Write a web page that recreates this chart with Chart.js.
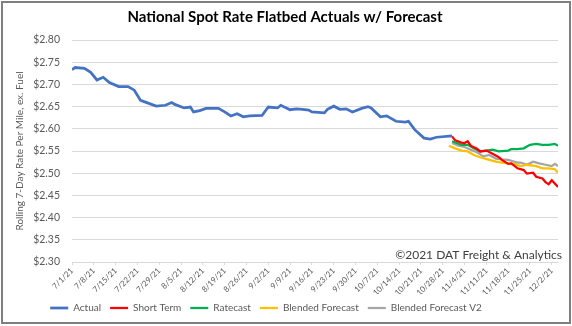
<!DOCTYPE html>
<html>
<head>
<meta charset="utf-8">
<script src="https://cdn.jsdelivr.net/npm/chart.js@4.4.0/dist/chart.umd.min.js"></script>
<style>
  body { margin: 0; background: #fff; }
</style>
</head>
<body>
<canvas id="myChart" width="572" height="326"></canvas>
<script>
const tickLabels = ['7/1/21', '7/8/21', '7/15/21', '7/22/21', '7/29/21', '8/5/21', '8/12/21', '8/19/21',
    '8/26/21', '9/2/21', '9/9/21', '9/16/21', '9/23/21', '9/30/21', '10/7/21', '10/14/21', '10/21/21',
    '10/28/21', '11/4/21', '11/11/21', '11/18/21', '11/25/21', '12/2/21'];

// x = days since 7/1/21
const actualDays = [0, 1, 4, 6, 8, 10, 12, 15, 18, 20, 22, 24, 27, 30, 32, 33, 36, 38, 39, 41, 43, 47, 49, 51,
    53, 55, 57, 61, 63, 66, 67, 70, 72, 74, 76, 77, 81, 82, 84, 86, 88, 90, 93, 95, 96, 99, 101, 104, 107, 108,
    110, 113, 115, 117, 122];
const actualRates = [2.733, 2.738, 2.736, 2.727, 2.710, 2.716, 2.704, 2.695, 2.695, 2.687, 2.664, 2.659, 2.651,
    2.653, 2.659, 2.655, 2.647, 2.649, 2.638, 2.641, 2.646, 2.646, 2.638, 2.629, 2.634, 2.627, 2.629, 2.630,
    2.649, 2.647, 2.653, 2.643, 2.645, 2.644, 2.642, 2.638, 2.636, 2.644, 2.651, 2.644, 2.645, 2.638, 2.646,
    2.650, 2.647, 2.627, 2.629, 2.617, 2.615, 2.617, 2.598, 2.579, 2.577, 2.581, 2.584];

const shortTermDays = [122, 123, 125, 126, 127, 128, 130, 131, 133, 135, 137, 138, 140, 141, 143, 145, 146, 148,
    149, 151, 152, 153, 154, 156];
const shortTermRates = [2.583, 2.574, 2.569, 2.568, 2.572, 2.562, 2.555, 2.549, 2.551, 2.544, 2.536, 2.530,
    2.521, 2.522, 2.511, 2.507, 2.499, 2.501, 2.492, 2.488, 2.480, 2.475, 2.484, 2.469];

const ratecastDays = [122, 123, 125, 127, 129, 131, 133, 135, 137, 140, 141, 143, 145, 147, 149, 151, 153, 155, 156];
const ratecastRates = [2.572, 2.569, 2.564, 2.564, 2.556, 2.549, 2.551, 2.553, 2.549, 2.551, 2.554, 2.554,
    2.556, 2.564, 2.566, 2.564, 2.564, 2.566, 2.562];

const blendedDays = [121, 123, 125, 127, 129, 131, 134, 136, 138, 140, 142, 144, 146, 149, 151, 153, 155, 156];
const blendedRates = [2.562, 2.556, 2.551, 2.549, 2.541, 2.536, 2.530, 2.526, 2.524, 2.522, 2.521, 2.516,
    2.519, 2.516, 2.511, 2.511, 2.509, 2.501];

const blendedV2Days = [122, 124, 126, 128, 130, 132, 134, 136, 138, 140, 141, 143, 144, 146, 148, 150, 152, 154, 155, 156];
const blendedV2Rates = [2.568, 2.562, 2.559, 2.553, 2.547, 2.538, 2.541, 2.533, 2.531, 2.530, 2.528, 2.524,
    2.524, 2.519, 2.526, 2.522, 2.519, 2.516, 2.521, 2.516];

const copyright = '\u00A92021 DAT Freight & Analytics';
const font = 'Lato';
const legendShift = 19;

function points(days, rates) {
    return days.map((d, i) => ({ x: d, y: rates[i] }));
}

function line(label, color, days, rates, width) {
    return {
        label: label,
        data: points(days, rates),
        borderColor: color,
        backgroundColor: color,
        borderWidth: width,
        pointRadius: 0,
        tension: 0,
    };
}

const frame = {
    id: 'frame',
    afterLayout(chart) {
        chart.legend.left -= legendShift;
        chart.legend.right -= legendShift;
    },
    afterDraw(chart) {
        const ctx = chart.ctx;
        const area = chart.chartArea;
        ctx.save();
        ctx.font = '12px ' + font;
        ctx.fillStyle = '#404040';
        ctx.textAlign = 'right';
        ctx.textBaseline = 'middle';
        ctx.fillText(copyright, area.right + 4, area.bottom - 7);
        ctx.strokeStyle = '#7f7f7f';
        ctx.lineWidth = 2;
        ctx.strokeRect(2, 2, 568, 321);
        ctx.restore();
    }
};

const config = {
    type: 'line',
    data: {
        datasets: [
            line('Actual', '#4472C4', actualDays, actualRates, 2.75),
            line('Short Term', '#FF0000', shortTermDays, shortTermRates, 2.25),
            line('Ratecast', '#00B050', ratecastDays, ratecastRates, 2.25),
            line('Blended Forecast', '#FFC000', blendedDays, blendedRates, 2.25),
            line('Blended Forecast V2', '#A5A5A5', blendedV2Days, blendedV2Rates, 2.25),
        ]
    },
    options: {
        responsive: false,
        animation: false,
        layout: { padding: { left: 12, right: 14, top: 0, bottom: 3 } },
        plugins: {
            title: {
                display: true,
                text: 'National Spot Rate Flatbed Actuals w/ Forecast',
                color: '#000',
                font: { family: font, size: 15, weight: 'bold' },
                padding: { top: 8, bottom: 14 }
            },
            legend: {
                position: 'bottom',
                labels: {
                    usePointStyle: true,
                    pointStyle: 'line',
                    pointStyleWidth: 18,
                    color: '#595959',
                    font: { family: font, size: 10 },
                    padding: 9
                }
            },
            tooltip: { enabled: false }
        },
        scales: {
            x: {
                type: 'linear',
                min: 0,
                max: 156,
                grid: { display: true, drawOnChartArea: false, drawTicks: true, tickLength: 3, color: '#d9d9d9' },
                border: { display: true, color: '#d9d9d9' },
                ticks: {
                    stepSize: 7,
                    includeBounds: false,
                    autoSkip: false,
                    minRotation: 45,
                    maxRotation: 45,
                    color: '#595959',
                    font: { family: font, size: 8 },
                    padding: 1,
                    callback: v => tickLabels[v / 7] ?? ''
                },
                afterFit: s => { s.height = 32; }
            },
            y: {
                min: 2.30,
                max: 2.80,
                grid: { color: '#d9d9d9', drawTicks: false },
                border: { display: false },
                ticks: {
                    stepSize: 0.05,
                    padding: 12,
                    color: '#595959',
                    font: { family: font, size: 10.5 },
                    callback: v => '$' + v.toFixed(2)
                },
                title: {
                    display: true,
                    text: 'Rolling 7-Day Rate Per Mile, ex. Fuel',
                    color: '#595959',
                    font: { family: font, size: 10 },
                    padding: 2
                },
                afterFit: s => { s.width = 60; }
            }
        }
    },
    plugins: [frame]
};

const myChart = new Chart(document.getElementById('myChart'), config);
</script>
</body>
</html>
